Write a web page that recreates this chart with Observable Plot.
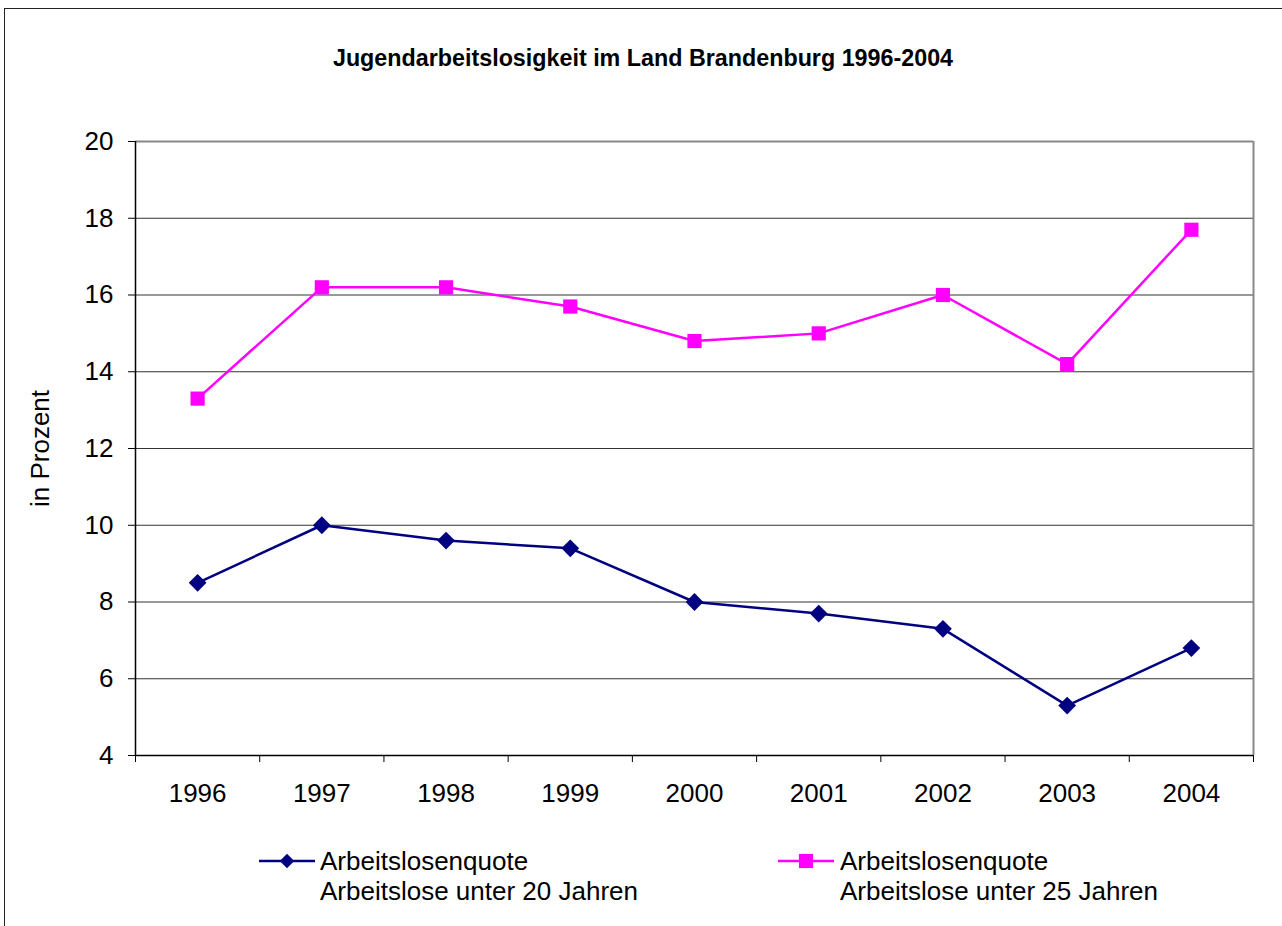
<!DOCTYPE html>
<html><head><meta charset="utf-8">
<script src="https://cdn.jsdelivr.net/npm/d3@7"></script>
<script src="https://cdn.jsdelivr.net/npm/@observablehq/plot@0.6"></script>
<style>
html,body{margin:0;padding:0;background:#fff;overflow:hidden;}
#wrap{position:relative;width:1282px;height:926px;font-family:"Liberation Sans",Arial,sans-serif;overflow:hidden;background:#fff;}
#border{position:absolute;left:4px;top:8px;width:1400px;height:1000px;border:1px solid #222;}
#title{position:absolute;top:45px;left:0;width:1286px;text-align:center;font-weight:bold;font-size:23.3px;line-height:26px;color:#000;}
#chart{position:absolute;left:0;top:100px;}
.leg{position:absolute;font-size:26px;line-height:30px;color:#000;white-space:nowrap;}
.sw{position:absolute;}
</style>
</head><body>
<div id="wrap">
  <div id="border"></div>
  <div id="title"></div>
  <div id="chart"></div>
  <div id="legend"></div>
</div>
<script>
const titleText = "Jugendarbeitslosigkeit im Land Brandenburg 1996-2004";
const yLabel = "in Prozent";
const years = [1996, 1997, 1998, 1999, 2000, 2001, 2002, 2003, 2004];
const under20 = [8.5, 10.0, 9.6, 9.4, 8.0, 7.7, 7.3, 5.3, 6.8];
const under25 = [13.3, 16.2, 16.2, 15.7, 14.8, 15.0, 16.0, 14.2, 17.7];
const seriesNames = ["Arbeitslose unter 20 Jahren", "Arbeitslose unter 25 Jahren"];
const seriesPrefix = "Arbeitslosenquote";
const seriesColors = ["#000080", "#FF00FF"];
const seriesSymbols = ["diamond2", "square"];
const yTicks = [4, 6, 8, 10, 12, 14, 16, 18, 20];
const yDomain = [4, 20];

document.getElementById("title").textContent = titleText;

const data = [];
years.forEach((y, i) => {
  data.push({year: y, value: under20[i], series: seriesNames[0]});
  data.push({year: y, value: under25[i], series: seriesNames[1]});
});
const xDomain = [years[0] - 0.5, years[years.length - 1] + 0.5];
const boundaries = years.map(y => y - 0.5).concat([years[years.length - 1] + 0.5]);
const gridTicks = yTicks.filter(t => t > yDomain[0] && t < yDomain[1]);

const chart = Plot.plot({
  width: 1282,
  height: 720,
  marginLeft: 135,
  marginRight: 29,
  marginTop: 41,
  marginBottom: 65,
  style: {fontFamily: "'Liberation Sans', Arial, sans-serif", fontSize: "26px", color: "#000", background: "transparent"},
  x: {domain: xDomain},
  y: {domain: yDomain},
  color: {domain: seriesNames, range: seriesColors},
  symbol: {domain: seriesNames, range: seriesSymbols},
  marks: [
    Plot.gridY(gridTicks, {stroke: "#333", strokeOpacity: 1, strokeWidth: 1}),
    Plot.ruleY([yDomain[1]], {stroke: "#888", strokeWidth: 2}),
    Plot.ruleX([xDomain[1]], {stroke: "#888", strokeWidth: 2}),
    Plot.ruleY([yDomain[0]], {stroke: "#000", strokeWidth: 1.5}),
    Plot.ruleX([xDomain[0]], {stroke: "#000", strokeWidth: 1.5}),
    Plot.axisY({ticks: yTicks, tickSize: 7, tickPadding: 15, fontSize: 26, label: null, stroke: "#000"}),
    Plot.axisX({ticks: boundaries, tickSize: 7, tickFormat: () => "", label: null, stroke: "#000"}),
    Plot.axisX({ticks: years, tickSize: 0, tickPadding: 28, tickFormat: d => String(d), fontSize: 26, label: null}),
    Plot.text([yLabel], {frameAnchor: "left", dx: -95, rotate: -90, textAnchor: "middle", text: d => d, fontSize: 26, fill: "#000"}),
    Plot.line(data, {x: "year", y: "value", z: "series", stroke: "series", strokeWidth: 2.5}),
    Plot.dot(data, {x: "year", y: "value", symbol: "series", fill: "series", stroke: "none", r: 8})
  ]
});
document.getElementById("chart").appendChild(chart);

// Legend
const legend = document.getElementById("legend");
const legPos = [{sx: 259, tx: 320}, {sx: 778, tx: 840}];
const symSize = [6.5, 8];
seriesNames.forEach((name, i) => {
  const sw = document.createElementNS("http://www.w3.org/2000/svg", "svg");
  sw.setAttribute("width", 56);
  sw.setAttribute("height", 20);
  sw.setAttribute("class", "sw");
  sw.style.left = legPos[i].sx + "px";
  sw.style.top = (861 - 10) + "px";
  const ln = document.createElementNS("http://www.w3.org/2000/svg", "line");
  ln.setAttribute("x1", 0); ln.setAttribute("x2", 56);
  ln.setAttribute("y1", 10); ln.setAttribute("y2", 10);
  ln.setAttribute("stroke", seriesColors[i]); ln.setAttribute("stroke-width", 2.5);
  sw.appendChild(ln);
  const p = document.createElementNS("http://www.w3.org/2000/svg", "path");
  const sym = seriesSymbols[i] === "square" ? d3.symbolSquare : d3.symbolDiamond2;
  p.setAttribute("d", d3.symbol(sym, Math.PI * symSize[i] * symSize[i])());
  p.setAttribute("transform", "translate(28,10)");
  p.setAttribute("fill", seriesColors[i]);
  sw.appendChild(p);
  legend.appendChild(sw);
  const t = document.createElement("div");
  t.className = "leg";
  t.style.left = legPos[i].tx + "px";
  t.style.top = "846px";
  t.innerHTML = seriesPrefix + "<br>" + name;
  legend.appendChild(t);
});
</script>
</body></html>
